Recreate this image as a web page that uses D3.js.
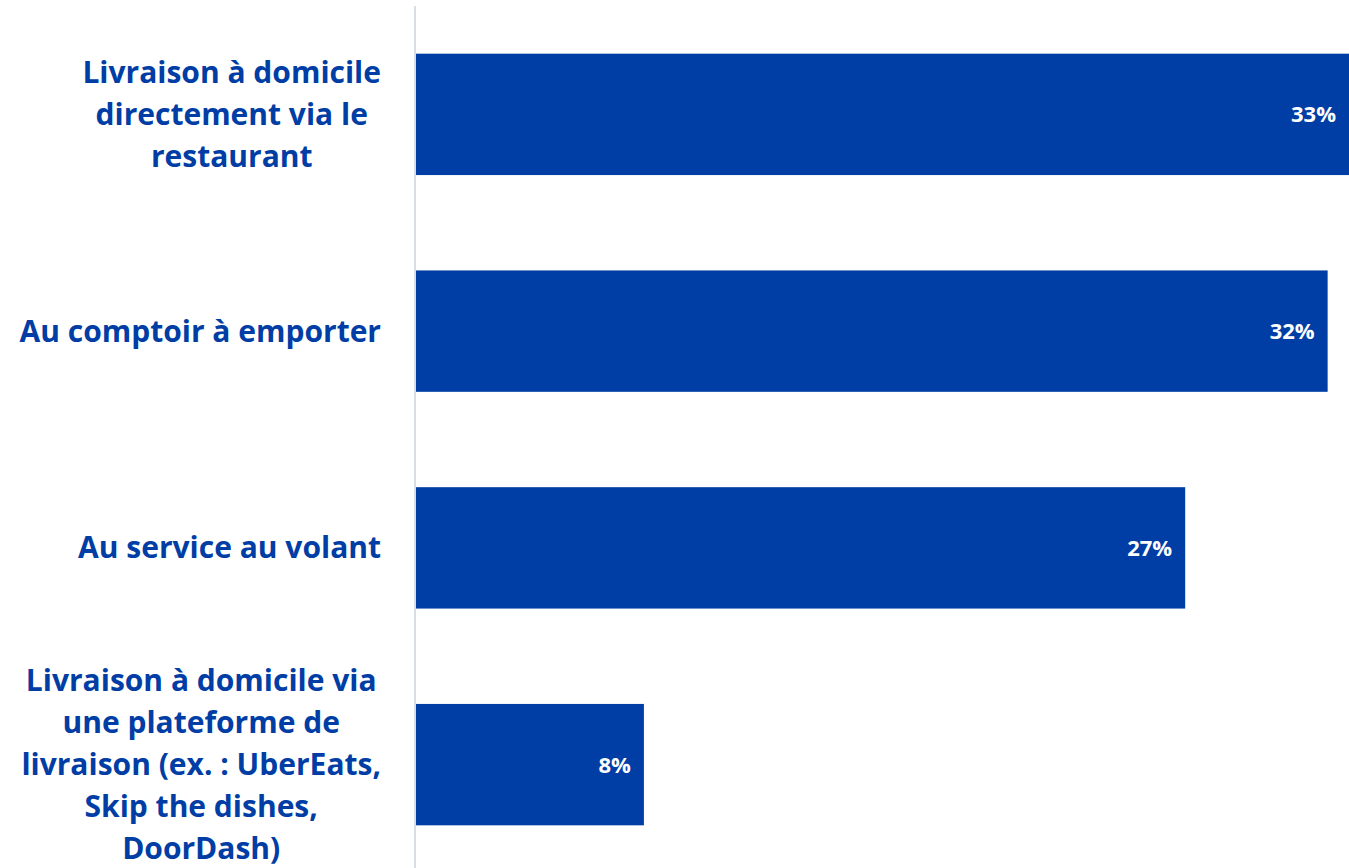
<!DOCTYPE html>
<html>
<head>
<meta charset="utf-8">
<script src="https://cdn.jsdelivr.net/npm/d3@7"></script>
<style>
  html, body { margin: 0; padding: 0; background: #ffffff; }
  svg { display: block; }
</style>
</head>
<body>
<svg id="chart" width="1349" height="868"></svg>
<script>
// Modes de commande (share of respondents, %)
const categories = [
  ["Livraison à domicile", "directement via le", "restaurant"],
  ["Au comptoir à emporter"],
  ["Au service au volant"],
  ["Livraison à domicile via", "une plateforme de", "livraison (ex. : UberEats,", "Skip the dishes,", "DoorDash)"]
];
const values = [33, 32, 27, 8];
const valueLabels = ["33%", "32%", "27%", "8%"];

const W = 1349, H = 868;
const blue = "#003da5";
const labelFont = "'Open Sans', 'Noto Sans', sans-serif";

const svg = d3.select("#chart");

const x = d3.scaleLinear().domain([0, 32.75]).range([416, 1349]);
const y = d3.scaleBand()
  .domain(d3.range(categories.length))
  .range([6, 873])
  .paddingInner(0.44)
  .paddingOuter(0.22);

// bars (the longest runs to the right edge)
svg.append("g").selectAll("rect")
  .data(values)
  .join("rect")
  .attr("x", x(0))
  .attr("y", (d, i) => y(i))
  .attr("width", d => x(d) - x(0))
  .attr("height", y.bandwidth())
  .attr("fill", blue);

// category axis line
svg.append("line")
  .attr("x1", 415).attr("x2", 415)
  .attr("y1", 6).attr("y2", H)
  .attr("stroke", "#d9dde6")
  .attr("stroke-width", 2);

// value labels inside bar ends
svg.append("g").selectAll("text")
  .data(values)
  .join("text")
  .attr("x", d => Math.min(x(d), W) - 13)
  .attr("y", (d, i) => y(i) + y.bandwidth() / 2)
  .attr("dy", "0.36em")
  .attr("text-anchor", "end")
  .attr("fill", "#ffffff")
  .style("font-family", labelFont)
  .style("font-weight", 700)
  .style("font-size", "22px")
  .text((d, i) => valueLabels[i]);

// category labels: centred line block, right edge aligned beside the axis
const lineH = 42;
const labelRight = 381;
const lg = svg.append("g");
categories.forEach((lines, i) => {
  const cy = y(i) + y.bandwidth() / 2;
  const t = lg.append("text")
    .attr("text-anchor", "middle")
    .attr("fill", blue)
    .style("font-family", labelFont)
    .style("font-weight", 700)
    .style("font-size", "30px");
  const spans = lines.map((s, k) => t.append("tspan")
    .attr("y", cy + (k - (lines.length - 1) / 2) * lineH)
    .attr("dy", "0.35em")
    .text(s));
  const maxW = d3.max(spans, sp => sp.node().getComputedTextLength());
  spans.forEach(sp => sp.attr("x", labelRight - maxW / 2));
});
</script>
</body>
</html>
